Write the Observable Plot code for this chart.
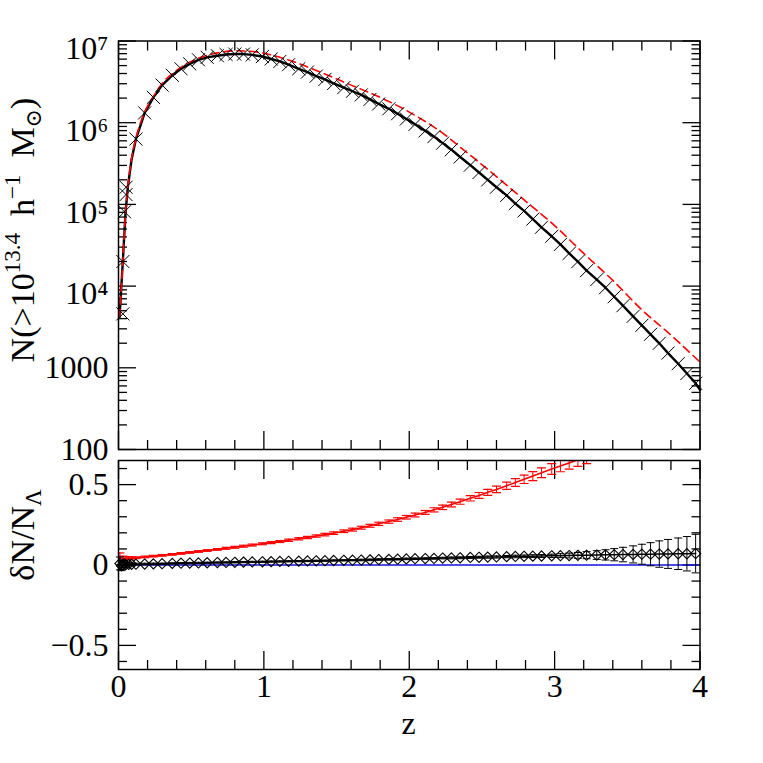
<!DOCTYPE html>
<html><head><meta charset="utf-8">
<script src="https://cdn.jsdelivr.net/npm/d3@7"></script>
<script src="https://cdn.jsdelivr.net/npm/@observablehq/plot@0.6"></script>
<style>
body{margin:0;background:white;}
#wrap{position:relative;width:763px;height:763px;overflow:hidden;}
#wrap svg{position:absolute;left:0;overflow:visible;background:transparent;}
#wrap svg, #wrap svg text, #wrap svg tspan{font-family:"Liberation Serif","DejaVu Serif",serif !important;}
</style></head><body><div id="wrap"></div>
<script>
// ---------- data ----------
// simulation bins (markers)
const zSim = [0.12,0.18,0.24,0.30,0.37,0.43,0.49,0.55,0.61,0.68,0.74,0.80,0.86,0.92,0.99,
  1.05,1.11,1.17,1.24,1.30,1.36,1.42,1.48,1.55,1.61,1.67,1.73,1.79,1.86,1.92,1.98,
  2.04,2.11,2.17,2.23,2.29,2.35,2.42,2.48,2.54,2.60,2.67,2.73,2.79,2.85,2.91,2.98,
  3.04,3.10,3.16,3.22,3.29,3.35,3.41,3.47,3.54,3.60,3.66,3.72,3.78,3.85,3.91,3.97];
// log10 N(>M) of the simulation
const logNSim = [5.80,6.12,6.31,6.46,6.58,6.66,6.72,6.77,6.80,6.82,6.835,6.84,6.84,6.83,6.81,
  6.78,6.75,6.71,6.66,6.62,6.57,6.53,6.48,6.43,6.385,6.34,6.285,6.23,6.17,6.11,6.045,
  5.98,5.90,5.83,5.75,5.67,5.58,5.48,5.39,5.30,5.21,5.11,5.01,4.92,4.82,4.72,4.61,
  4.51,4.40,4.30,4.19,4.08,3.98,3.87,3.76,3.63,3.52,3.41,3.30,3.18,3.05,2.93,2.81];
// extra low-z simulation markers
const zSimLow = [0.03,0.03,0.041,0.052,0.052];
const logNSimLow = [3.66,4.30,4.91,5.12,5.21];
// black solid line ends
const zLineLow = [0.007,0.03,0.048,0.064,0.09];
const logNLineLow = [3.62,4.31,4.89,5.21,5.55];
const zLineEnd = [4.0];
const logNLineEnd = [2.73];
// red dashed model
const zModel = [0.007,0.03,0.048,0.064,0.09,0.12,0.18,0.24,0.30,0.40,0.50,0.60,0.70,0.80,0.90,1.0,
  1.2,1.4,1.6,1.8,2.0,2.2,2.4,2.6,2.8,3.0,3.2,3.4,3.6,3.8,4.0];
const logNModel = [3.62,4.31,4.89,5.21,5.56,5.81,6.13,6.32,6.48,6.64,6.75,6.82,6.86,6.88,6.875,6.85,
  6.75,6.61,6.46,6.31,6.13,5.91,5.63,5.34,5.04,4.74,4.40,4.07,3.71,3.40,3.07];

// lower panel: deltaN/N_Lambda
const dSim = [0.005,0.006,0.007,0.008,0.010,0.011,0.012,0.013,0.014,0.015,0.016,0.017,0.018,0.019,0.020,
  0.021,0.022,0.023,0.024,0.025,0.026,0.027,0.028,0.029,0.030,0.031,0.032,0.034,0.035,0.036,0.038,
  0.039,0.040,0.041,0.043,0.044,0.045,0.047,0.048,0.049,0.050,0.052,0.053,0.054,0.055,0.056,0.057,
  0.058,0.059,0.060,0.061,0.062,0.063,0.064,0.065,0.066,0.067,0.067,0.068,0.069,0.070,0.070,0.071];
const eSim = [0.006,0.005,0.005,0.004,0.004,0.004,0.004,0.004,0.004,0.004,0.004,0.004,0.004,0.004,0.004,
  0.004,0.004,0.004,0.004,0.004,0.004,0.004,0.004,0.004,0.004,0.005,0.005,0.005,0.005,0.005,0.005,
  0.005,0.005,0.005,0.005,0.006,0.006,0.006,0.006,0.007,0.007,0.007,0.008,0.008,0.009,0.009,0.010,
  0.012,0.015,0.018,0.022,0.027,0.032,0.038,0.045,0.053,0.062,0.072,0.082,0.090,0.098,0.107,0.120];
const zSimLowRes = [0.01,0.02,0.03,0.04,0.05,0.07,0.09];
const dSimLow = [0.010,-0.005,0.000,0.008,0.002,0.004,0.004];
const eSimLow = [0.040,0.030,0.025,0.020,0.015,0.010,0.008];

const zRed = zSim.slice(0, 51);
const dRed = [0.045,0.050,0.055,0.060,0.066,0.072,0.078,0.084,0.090,0.097,0.104,0.110,0.117,0.124,0.132,
  0.139,0.146,0.154,0.163,0.171,0.180,0.189,0.198,0.210,0.220,0.232,0.244,0.256,0.270,0.283,0.297,
  0.311,0.327,0.343,0.359,0.376,0.394,0.415,0.433,0.452,0.470,0.493,0.513,0.533,0.553,0.574,0.597,
  0.616,0.635,0.655,0.675];
const eRed = [0.005,0.005,0.005,0.005,0.005,0.005,0.005,0.005,0.005,0.005,0.006,0.006,0.006,0.006,0.006,
  0.006,0.006,0.007,0.007,0.007,0.007,0.008,0.008,0.008,0.009,0.009,0.009,0.010,0.010,0.011,0.011,
  0.012,0.012,0.013,0.014,0.015,0.016,0.017,0.018,0.019,0.020,0.022,0.024,0.026,0.028,0.030,0.033,
  0.036,0.039,0.042,0.045];
const zRedLow = [0.01,0.03,0.05,0.07,0.09];
const dRedLow = [0.045,0.040,0.042,0.043,0.044];
const eRedLow = [0.030,0.015,0.010,0.008,0.006];

// ticks
const xMajor = [0,1,2,3,4];
const xLabels = ["0","1","2","3","4"];
const yTopMajor = [100,1000,1e4,1e5,1e6,1e7];
const yTopLabels = ["100","1000","10\u2074","10\u2075","10\u2076","10\u2077"];
const yBotMajor = [-0.5,0,0.5];
const yBotLabels = ["\u22120.5","0","0.5"];

// ---------- build ----------
const serif = "Liberation Serif";
const xMinor = d3.range(0, 4.001, 0.2).map(v => +v.toFixed(2)).filter(v => !xMajor.includes(v));
const yTopMinor = [];
[100,1000,1e4,1e5,1e6].forEach(d => { for (let m = 2; m <= 9; m++) yTopMinor.push(d*m); });
const yBotMinor = d3.range(-0.6, 0.601, 0.1).map(v => +v.toFixed(2)).filter(v => !yBotMajor.includes(v));

const pow = v => Math.pow(10, v);
const sim = zSim.map((z,i) => ({z, N: pow(logNSim[i])}))
  .concat(zSimLow.map((z,i) => ({z, N: pow(logNSimLow[i])})));
const simLine = zLineLow.map((z,i) => ({z, N: pow(logNLineLow[i])}))
  .concat(zSim.map((z,i) => ({z, N: pow(logNSim[i])})))
  .concat(zLineEnd.map((z,i) => ({z, N: pow(logNLineEnd[i])})));
const model = zModel.map((z,i) => ({z, N: pow(logNModel[i])}));

const res = zSimLowRes.map((z,i) => ({z, d: dSimLow[i], e: eSimLow[i]}))
  .concat(zSim.map((z,i) => ({z, d: dSim[i], e: eSim[i]})));
const red = zRedLow.map((z,i) => ({z, d: dRedLow[i], e: eRedLow[i]}))
  .concat(zRed.map((z,i) => ({z, d: dRed[i], e: eRed[i]})));

const cap = w => ({draw(ctx){ ctx.moveTo(-w,0); ctx.lineTo(w,0); }});
const fmtFrom = (ticks, labels) => v => labels[ticks.indexOf(v)] ?? "";

function tickAxes(yMinor, yMajor) {
  const o = {label: null, tickFormat: () => "", strokeWidth: 1.3};
  return [
    Plot.axisX({...o, anchor: "top", ticks: xMinor, tickSize: -9}),
    Plot.axisX({...o, anchor: "bottom", ticks: xMinor, tickSize: -9}),
    Plot.axisX({...o, anchor: "top", ticks: xMajor, tickSize: -18}),
    Plot.axisX({...o, anchor: "bottom", ticks: xMajor, tickSize: -18}),
    Plot.axisY({...o, anchor: "left", ticks: yMinor, tickSize: -9}),
    Plot.axisY({...o, anchor: "right", ticks: yMinor, tickSize: -9}),
    Plot.axisY({...o, anchor: "left", ticks: yMajor, tickSize: -18}),
    Plot.axisY({...o, anchor: "right", ticks: yMajor, tickSize: -18})
  ];
}

const common = {
  width: 763, marginLeft: 118, marginRight: 63.5,
  style: {fontFamily: serif, fontSize: "32px", background: "transparent", overflow: "visible", color: "black"}
};

const p1 = Plot.plot({
  ...common, height: 460, marginTop: 40.5, marginBottom: 11,
  x: {domain: [0, 4]},
  y: {type: "log", domain: [100, 1e7]},
  marks: [
    ...tickAxes(yTopMinor, yTopMajor),
    Plot.axisY({anchor: "left", ticks: [1e4,1e5,1e6,1e7], tickSize: 0, tickPadding: 10, dy: 8,
      tickFormat: fmtFrom(yTopMajor, yTopLabels), label: null, fontFamily: serif}),
    Plot.axisY({anchor: "left", ticks: [100,1000], tickSize: 0, tickPadding: 10,
      tickFormat: fmtFrom(yTopMajor, yTopLabels), label: null, fontFamily: serif}),
    Plot.line(simLine, {x: "z", y: "N", stroke: "black", strokeWidth: 2.4}),
    Plot.line(model, {x: "z", y: "N", stroke: "#ff0000", strokeWidth: 1.6, strokeDasharray: "8,5", curve: "monotone-x"}),
    Plot.dot(sim, {x: "z", y: "N", symbol: "times", r: 6, stroke: "black", strokeWidth: 1}),
    Plot.frame({stroke: "black", strokeWidth: 1.5})
  ]
});

const p2 = Plot.plot({
  ...common, height: 308, marginTop: 5, marginBottom: 94,
  x: {domain: [0, 4]},
  y: {domain: [-0.65, 0.65]},
  marks: [
    ...tickAxes(yBotMinor, yBotMajor),
    Plot.axisX({anchor: "bottom", ticks: xMajor, tickSize: 0, tickPadding: 5,
      tickFormat: fmtFrom(xMajor, xLabels), label: null, fontFamily: serif}),
    Plot.axisY({anchor: "left", ticks: yBotMajor, tickSize: 0, tickPadding: 10,
      tickFormat: fmtFrom(yBotMajor, yBotLabels), label: null, fontFamily: serif}),
    Plot.ruleY([0], {stroke: "#1010e0", strokeWidth: 1.5}),
    Plot.line(red, {x: "z", y: "d", stroke: "#ff0000", strokeWidth: 1.6, clip: true}),
    Plot.ruleX(red, {x: "z", y1: d => d.d - d.e, y2: d => d.d + d.e, stroke: "#ff0000", strokeWidth: 1, clip: true}),
    Plot.dot(red, {x: "z", y: d => d.d - d.e, symbol: cap(4.5), stroke: "#ff0000", strokeWidth: 1.2, clip: true}),
    Plot.dot(red, {x: "z", y: d => d.d + d.e, symbol: cap(4.5), stroke: "#ff0000", strokeWidth: 1.2, clip: true}),
    Plot.line(res, {x: "z", y: "d", stroke: "black", strokeWidth: 1.5}),
    Plot.ruleX(res, {x: "z", y1: d => d.d - d.e, y2: d => d.d + d.e, stroke: "black", strokeWidth: 1}),
    Plot.dot(res, {x: "z", y: d => d.d - d.e, symbol: cap(4), stroke: "black", strokeWidth: 1}),
    Plot.dot(res, {x: "z", y: d => d.d + d.e, symbol: cap(4), stroke: "black", strokeWidth: 1}),
    Plot.dot(res, {x: "z", y: "d", symbol: "diamond2", r: 4.6, stroke: "black", strokeWidth: 1.1, fill: "none"}),
    Plot.frame({stroke: "black", strokeWidth: 1.5})
  ]
});

const wrap = document.getElementById("wrap");
p1.style.top = "0px";
p2.style.top = "455px";
wrap.appendChild(p2);
wrap.appendChild(p1);

// axis titles with super/subscripts
function label(svg, x, y, rotate, parts, size) {
  const t = d3.select(svg).append("text")
    .attr("transform", `translate(${x},${y})` + (rotate ? ` rotate(${rotate})` : ""))
    .attr("text-anchor", "middle")
    .attr("fill", "black")
    .attr("font-family", serif)
    .style("font-size", size || "34px");
  parts.forEach(([txt, dy, sz]) => {
    const s = t.append("tspan").text(txt);
    if (dy) s.attr("dy", dy);
    if (sz) s.style("font-size", sz);
  });
}
label(p1, 34, 230, -90, [
  ["N(>10"], ["13.4", -14, "23px"], ["\u2002h", 14], ["\u22121", -14, "23px"],
  ["\u2002M", 14], ["\u2299", 7, "22px"], [")", -7]
]);
label(p2, 34, 80, -90, [["\u03b4N/N"], ["\u039b", 7, "23px"]]);
label(p2, 408.6, 279, 0, [["z"]], "32px");
</script>
</body></html>
